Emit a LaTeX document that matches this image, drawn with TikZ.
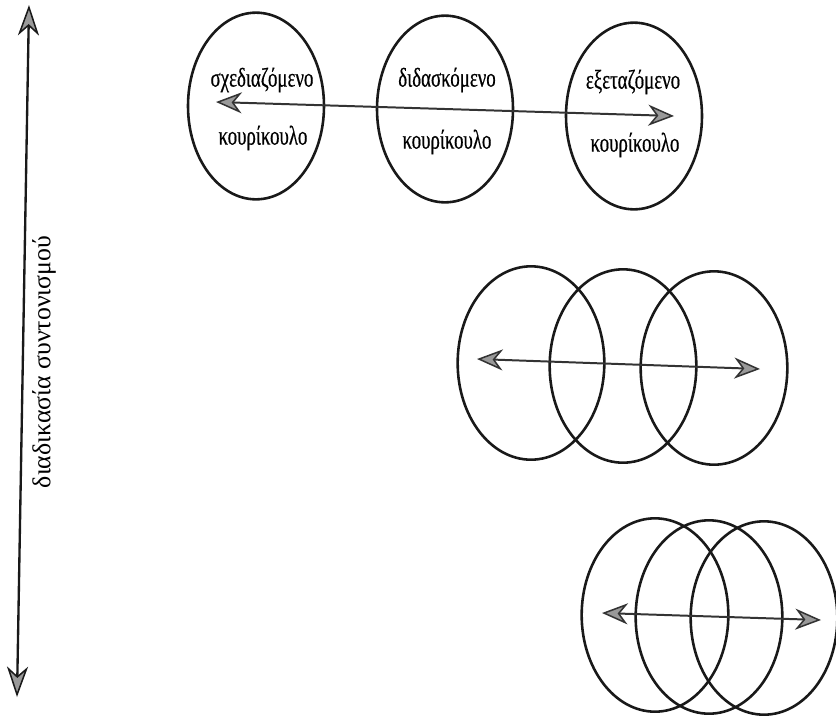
\documentclass[tikz,border=0pt]{standalone}
\usepackage{fontspec}
\setmainfont{Liberation Serif}
\newfontfamily\grnarrow[FakeStretch=0.7,FakeBold=0.5]{Liberation Serif}
\usetikzlibrary{shapes.geometric,arrows.meta}

\tikzset{
  ring/.style={draw=black!90, line width=2.2pt, ellipse, inner sep=0pt},
  topring/.style={ring, minimum width=4.08cm, minimum height=5.6cm},
  bigring/.style={ring, minimum width=4.4cm, minimum height=5.8cm},
  word/.style={font=\grnarrow\fontsize{23}{26}\selectfont, inner sep=0pt},
  headtip/.tip={Stealth[length=22pt,width=18pt,inset=7pt,fill=black!40,line width=1.3pt]},
  longtip/.tip={Stealth[length=26pt,width=18pt,inset=8pt,fill=black!40,line width=1.3pt]},
  twoway/.style={draw=black!80, line width=1.7pt, {headtip}-{headtip}},
}

\begin{document}
\begin{tikzpicture}[x=0.03cm, y=-0.03cm]
      \useasboundingbox (0,0) rectangle (836,717);

      % coordination axis on the left
      \coordinate (axtop) at (29,5);
      \coordinate (axbot) at (17,697);
      \draw[draw=black!90, line width=2pt, {longtip}-{longtip}] (axtop) -- (axbot);
      \node[font=\fontsize{22}{26}\selectfont, rotate=90] (axis) at (44,362) {διαδικασία συντονισμού};

      % first row:
      %   three separate circles, one per curriculum
      \node[topring] (plan) at (256,106) {};
      \node[topring] (taught) at (445,109) {};
      \node[topring] (exam) at (634,116) {};
        \node[word] (planA) at (262,80) {σχεδιαζόμενο};
        \node[word] (planB) at (263,138) {κουρίκουλο};
        \node[word] (taughtA) at (447,80) {διδασκόμενο};
        \node[word] (taughtB) at (447,142) {κουρίκουλο};
        \node[word] (examA) at (633,82) {εξεταζόμενο};
        \node[word] (examB) at (635,145) {κουρίκουλο};
      \coordinate (topL) at (216,102);
      \coordinate (topR) at (674,116);
      \draw[twoway] (topL) -- (topR);

      % second row:
      %   circles overlap in part
      \node[bigring] (midA) at (531,363) {};
      \node[bigring] (midB) at (623,366) {};
      \node[bigring] (midC) at (714,368) {};
      \coordinate (midL) at (477,359);
      \coordinate (midR) at (760,369);
      \draw[twoway] (midL) -- (midR);

      % third row:
      %   circles overlap almost fully
      \node[bigring] (lowA) at (655,615) {};
      \node[bigring] (lowB) at (709,617) {};
      \node[bigring] (lowC) at (764,618) {};
      \coordinate (lowL) at (602,613);
      \coordinate (lowR) at (821,620);
      \draw[twoway] (lowL) -- (lowR);
    \end{tikzpicture}
\end{document}
